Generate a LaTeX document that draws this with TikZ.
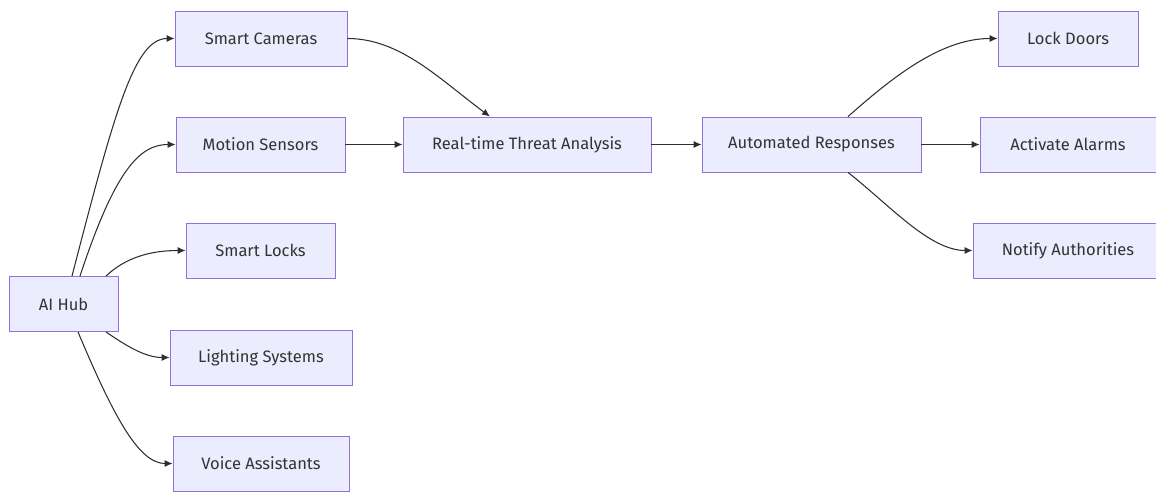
\documentclass[tikz,border=0pt]{standalone}
\usepackage{fontspec}
\setmainfont{Fira Sans}
\usetikzlibrary{arrows.meta}
\definecolor{boxfill}{HTML}{ECECFF}
\definecolor{boxline}{HTML}{9370DB}
\definecolor{ink}{HTML}{333333}
\tikzset{
  box/.style={draw=boxline, fill=boxfill, line width=0.5pt, text=ink,
    minimum height=1.1cm, inner sep=0pt,
    font=\fontsize{9.4}{11}\selectfont},
  link/.style={draw=ink!90!black, line width=0.6pt,
    -{Latex[length=1.6mm,width=1.4mm]}}
}
\begin{document}
\begin{tikzpicture}[x=0.02cm, y=-0.02cm]
\useasboundingbox (0,0) rectangle (1156,492);
% sources
\node[box, minimum width=2.18cm] (hub) at (63.5,304) {AI Hub};
\node[box, minimum width=3.44cm] (cam) at (261,38.5) {Smart Cameras};
\node[box, minimum width=3.38cm] (mot) at (260.5,144.5) {Motion Sensors};
\node[box, minimum width=2.98cm] (lck) at (260.5,250.5) {Smart Locks};
\node[box, minimum width=3.64cm] (lit) at (261,357.5) {Lighting Systems};
\node[box, minimum width=3.52cm] (voi) at (261,463.5) {Voice Assistants};
% processing chain
\node[box, minimum width=4.96cm] (rta) at (527,144.5) {Real-time Threat Analysis};
\node[box, minimum width=4.38cm] (aut) at (811.5,144.5) {Automated Responses};
% actions
\node[box, minimum width=2.80cm] (door) at (1068,38.5) {Lock Doors};
\node[box, minimum width=3.52cm] (alarm) at (1068,144.5) {Activate Alarms};
\node[box, minimum width=3.80cm] (notify) at (1068,250.5) {Notify Authorities};

% hub fan-out
\draw[link] ([xshift=0.17cm]hub.north) .. controls +(43,-166) and +(-40,0) .. (cam.west);
\draw[link] ([xshift=0.33cm]hub.north) .. controls +(35,-106) and +(-36,0) .. (mot.west);
\draw[link] ([xshift=0.85cm]hub.north) .. controls +(19,-18) and +(-36,0) .. (lck.west);
\draw[link] ([xshift=0.85cm]hub.south) .. controls +(19,13) and +(-25,0) .. (lit.west);
\draw[link] ([xshift=0.29cm]hub.south) .. controls +(37,88) and +(-33,0) .. (voi.west);

% into analysis
\draw[link] (cam.east) .. controls +(53,0) and +(-50,-37) .. ([xshift=-0.74cm]rta.north);
\draw[link] (mot) -- (rta);
\draw[link] (rta) -- (aut);

% responses
\draw[link] ([xshift=0.73cm]aut.north) .. controls +(42,-37) and +(-58,0) .. (door.west);
\draw[link] (aut) -- (alarm);
\draw[link] ([xshift=0.73cm]aut.south) .. controls +(42,33) and +(-43,0) .. (notify.west);
\end{tikzpicture}
\end{document}
